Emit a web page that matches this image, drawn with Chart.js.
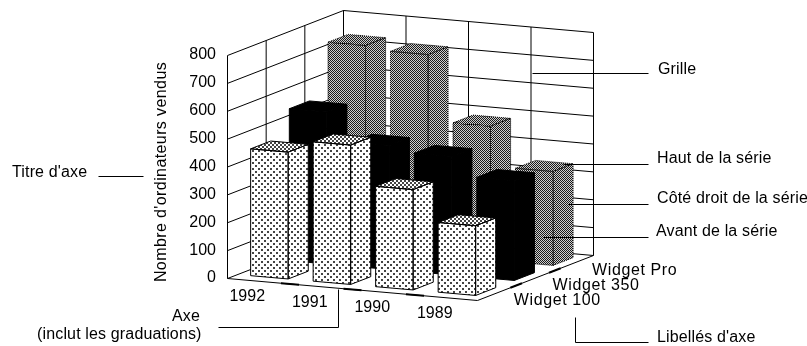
<!DOCTYPE html>
<html>
<head>
<meta charset="utf-8">
<script src="https://cdn.jsdelivr.net/npm/chart.js@4"></script>
<style>
  html, body { margin: 0; background: #fff; }
  canvas { display: block; }
</style>
</head>
<body>
<canvas id="chart" width="807" height="346"></canvas>
<script>
// ================== DATA ==================
const years = ['1992', '1991', '1990', '1989'];
const seriesNames = ['Widget 100', 'Widget 350', 'Widget Pro'];
const widget100 = [455, 500, 360, 250];
const widget350 = [545, 445, 425, 358];
const widgetPro = [730, 717, 480, 337];
const yMax = 800;
const yStep = 100;
const yAxisTitle = "Nombre d'ordinateurs vendus";

const FONT = '16px "Liberation Sans"';

// ================== 3D PROJECTION ==================
const DEPTH_X = 116;   // floor vector of the series axis
const DEPTH_Y = 45;
const SLOPE = 22 / 250; // front edge of the floor goes slightly down
const BAR_L = 0.27;    // left/right of a bar, in categories
const BAR_R = 0.33;
const BAR_D = 0.26;    // half depth, in series

function project(chart, xPx, depth, yPx) {
  const left = chart.chartArea.left;
  return [xPx + depth * DEPTH_X, yPx + (xPx - left) * SLOPE - depth * DEPTH_Y];
}

function depthOf(chart, j) {
  const z = chart.scales.z;
  return (z.getPixelForValue(j) - z.left) / z.width;
}

function poly(ctx, pts) {
  ctx.beginPath();
  pts.forEach((p, i) => i ? ctx.lineTo(p[0], p[1]) : ctx.moveTo(p[0], p[1]));
  ctx.closePath();
}

function seg(ctx, a, b) {
  ctx.beginPath();
  ctx.moveTo(a[0] + 0.5, a[1] + 0.5);
  ctx.lineTo(b[0] + 0.5, b[1] + 0.5);
  ctx.stroke();
}

// ================== FILL PATTERNS ==================
function makePattern(ctx, size, draw) {
  const c = document.createElement('canvas');
  c.width = c.height = size;
  const g = c.getContext('2d');
  draw(g);
  return ctx.createPattern(c, 'repeat');
}

function dots(ctx, size) {
  return makePattern(ctx, size, g => {
    g.fillStyle = '#fff';
    g.fillRect(0, 0, size, size);
    g.fillStyle = '#444';
    g.fillRect(0, 0, 2, 2);
    g.fillRect(size / 2, size / 2, 2, 2);
  });
}

function checker(ctx) {
  return makePattern(ctx, 2, g => {
    g.fillStyle = '#cfcfcf';
    g.fillRect(0, 0, 2, 2);
    g.fillStyle = '#1a1a1a';
    g.fillRect(0, 0, 1, 1);
    g.fillRect(1, 1, 1, 1);
  });
}

// ================== WALLS + FLOOR ==================
const wallsPlugin = {
  id: 'walls',
  beforeDatasetsDraw(chart) {
    const { ctx, chartArea, scales } = chart;
    const { left, right } = chartArea;
    const y = scales.y;
    const y0 = y.getPixelForValue(0);
    const yTop = y.getPixelForValue(yMax);
    ctx.save();
    ctx.strokeStyle = '#000';
    ctx.lineWidth = 1;

    for (let v = 0; v <= yMax; v += yStep) {
      const py = y.getPixelForValue(v);
      seg(ctx, project(chart, left, 0, py), project(chart, left, 1, py));
      seg(ctx, project(chart, left, 1, py), project(chart, right, 1, py));
    }
    seg(ctx, project(chart, left, 0, y0), project(chart, left, 0, yTop));
    seg(ctx, project(chart, left, 1, y0), project(chart, left, 1, yTop));
    seriesNames.forEach((s, j) => {
      const d = depthOf(chart, j + 0.5);
      seg(ctx, project(chart, left, d, y0), project(chart, left, d, yTop));
    });
    years.forEach((c, i) => {
      const px = scales.x.getPixelForValue(i + 0.5);
      seg(ctx, project(chart, px, 1, y0), project(chart, px, 1, yTop));
    });

    // floor edges and their thick tick dashes
    seg(ctx, project(chart, left, 0, y0), project(chart, right, 0, y0));
    seg(ctx, project(chart, right, 0, y0), project(chart, right, 1, y0));
    ctx.lineWidth = 2;
    for (let i = 0; i < years.length - 1; i++) {
      const px = scales.x.getPixelForValue(i + 0.5);
      seg(ctx, project(chart, px - 9, 0, y0), project(chart, px + 9, 0, y0));
    }
    for (let j = 0; j < seriesNames.length - 1; j++) {
      const d = depthOf(chart, j + 0.5);
      seg(ctx, project(chart, right, d - 0.05, y0), project(chart, right, d + 0.05, y0));
    }
    ctx.restore();
  }
};

// ================== 3D BARS ==================
function drawBar(chart, i, j, value, st) {
  const { ctx, scales } = chart;
  const x0 = scales.x.getPixelForValue(i - BAR_L);
  const x1 = scales.x.getPixelForValue(i + BAR_R);
  const d0 = depthOf(chart, j - BAR_D);
  const d1 = depthOf(chart, j + BAR_D);
  const yb = scales.y.getPixelForValue(0);
  const yt = scales.y.getPixelForValue(value);

  const fbl = project(chart, x0, d0, yb), fbr = project(chart, x1, d0, yb);
  const ftl = project(chart, x0, d0, yt), ftr = project(chart, x1, d0, yt);
  const bbr = project(chart, x1, d1, yb), btr = project(chart, x1, d1, yt);
  const btl = project(chart, x0, d1, yt);

  ctx.fillStyle = st.side;
  poly(ctx, [fbr, bbr, btr, ftr]); ctx.fill();
  ctx.fillStyle = st.front;
  poly(ctx, [fbl, fbr, ftr, ftl]); ctx.fill();
  ctx.fillStyle = st.top;
  poly(ctx, [ftl, ftr, btr, btl]); ctx.fill();

  ctx.strokeStyle = '#000';
  ctx.lineWidth = 1;
  ctx.setLineDash(st.dash || []);
  poly(ctx, [fbl, fbr, ftr, ftl]); ctx.stroke();
  poly(ctx, [fbr, bbr, btr, ftr]); ctx.stroke();
  poly(ctx, [ftl, ftr, btr, btl]); ctx.stroke();
  ctx.setLineDash([]);
}

const barsPlugin = {
  id: 'bars3d',
  afterDatasetsDraw(chart) {
    const { ctx } = chart;
    const grey = checker(ctx);
    const styles = [
      { front: dots(ctx, 6), side: dots(ctx, 6), top: dots(ctx, 4) },
      { front: '#000', side: '#000', top: '#000' },
      { front: grey, side: grey, top: grey, dash: [1, 1] }
    ];
    ctx.save();
    // back series first, then left to right
    for (let j = chart.data.datasets.length - 1; j >= 0; j--) {
      chart.data.datasets[j].data.forEach((v, i) => drawBar(chart, i, j, v, styles[j]));
    }
    ctx.restore();
  }
};

// ================== LABELS + CALLOUTS ==================
const callouts = [
  { text: 'Grille', x: 658, y: 70, line: [[532, 73], [648, 73]] },
  { text: 'Haut de la série', x: 657, y: 159, line: [[563, 164], [648, 164]] },
  { text: 'Côté droit de la série', x: 657, y: 199, line: [[568, 204], [648, 204]] },
  { text: 'Avant de la série', x: 656, y: 232, line: [[543, 237], [648, 237]] },
  { text: "Libellés d'axe", x: 657, y: 338, line: [[575, 317], [575, 342], [648, 342]] },
  { text: "Titre d'axe", x: 12, y: 173, line: [[98, 176], [143, 176]] },
  { text: 'Axe', x: 172, y: 317, line: [[218, 327], [338, 327], [338, 289]] },
  { text: '(inclut les graduations)', x: 37, y: 335, line: null }
];

const labelsPlugin = {
  id: 'labels3d',
  afterDraw(chart) {
    const { ctx, chartArea, scales } = chart;
    const y0 = scales.y.getPixelForValue(0);
    ctx.save();
    ctx.font = FONT;
    ctx.fillStyle = '#000';
    ctx.textBaseline = 'middle';

    // year labels under the front edge
    ctx.textAlign = 'center';
    years.forEach((c, i) => {
      const p = project(chart, scales.x.getPixelForValue(i), 0, y0);
      ctx.fillText(c, p[0] - 11, p[1] + 16);
    });
    // series labels next to the right edge
    ctx.letterSpacing = '0.6px';
    seriesNames.forEach((s, j) => {
      const p = project(chart, chartArea.right, depthOf(chart, j), y0);
      ctx.fillText(s, p[0] + 61, p[1] + 8);
    });

    // axis title
    ctx.letterSpacing = '0.4px';
    ctx.save();
    ctx.translate(162, 172);
    ctx.rotate(-Math.PI / 2);
    ctx.fillText(yAxisTitle, 0, 0);
    ctx.restore();

    // callouts
    ctx.letterSpacing = '0.15px';
    ctx.textAlign = 'left';
    ctx.strokeStyle = '#000';
    ctx.lineWidth = 1;
    callouts.forEach(c => {
      ctx.fillText(c.text, c.x, c.y);
      if (!c.line) return;
      for (let k = 1; k < c.line.length; k++) seg(ctx, c.line[k - 1], c.line[k]);
    });
    ctx.restore();
  }
};

// ================== CHART ==================
new Chart(document.getElementById('chart'), {
  type: 'bar',
  data: {
    labels: years,
    datasets: [
      { label: seriesNames[0], data: widget100, backgroundColor: 'transparent' },
      { label: seriesNames[1], data: widget350, backgroundColor: 'transparent' },
      { label: seriesNames[2], data: widgetPro, backgroundColor: 'transparent' }
    ]
  },
  options: {
    responsive: false,
    animation: false,
    layout: { padding: { left: 150, right: 330, top: 55, bottom: 68 } },
    plugins: { legend: { display: false }, tooltip: { enabled: false } },
    scales: {
      x: { type: 'category', display: false, offset: true },
      z: { type: 'category', axis: 'x', labels: seriesNames, display: false, offset: true },
      y: {
        min: 0,
        max: yMax,
        ticks: {
          stepSize: yStep,
          color: '#000',
          padding: 11,
          font: { family: 'Liberation Sans', size: 16 }
        },
        grid: { display: false, drawTicks: false },
        border: { display: false },
        afterFit(scale) { scale.width = 77; }
      }
    }
  },
  plugins: [wallsPlugin, barsPlugin, labelsPlugin]
});
</script>
</body>
</html>
